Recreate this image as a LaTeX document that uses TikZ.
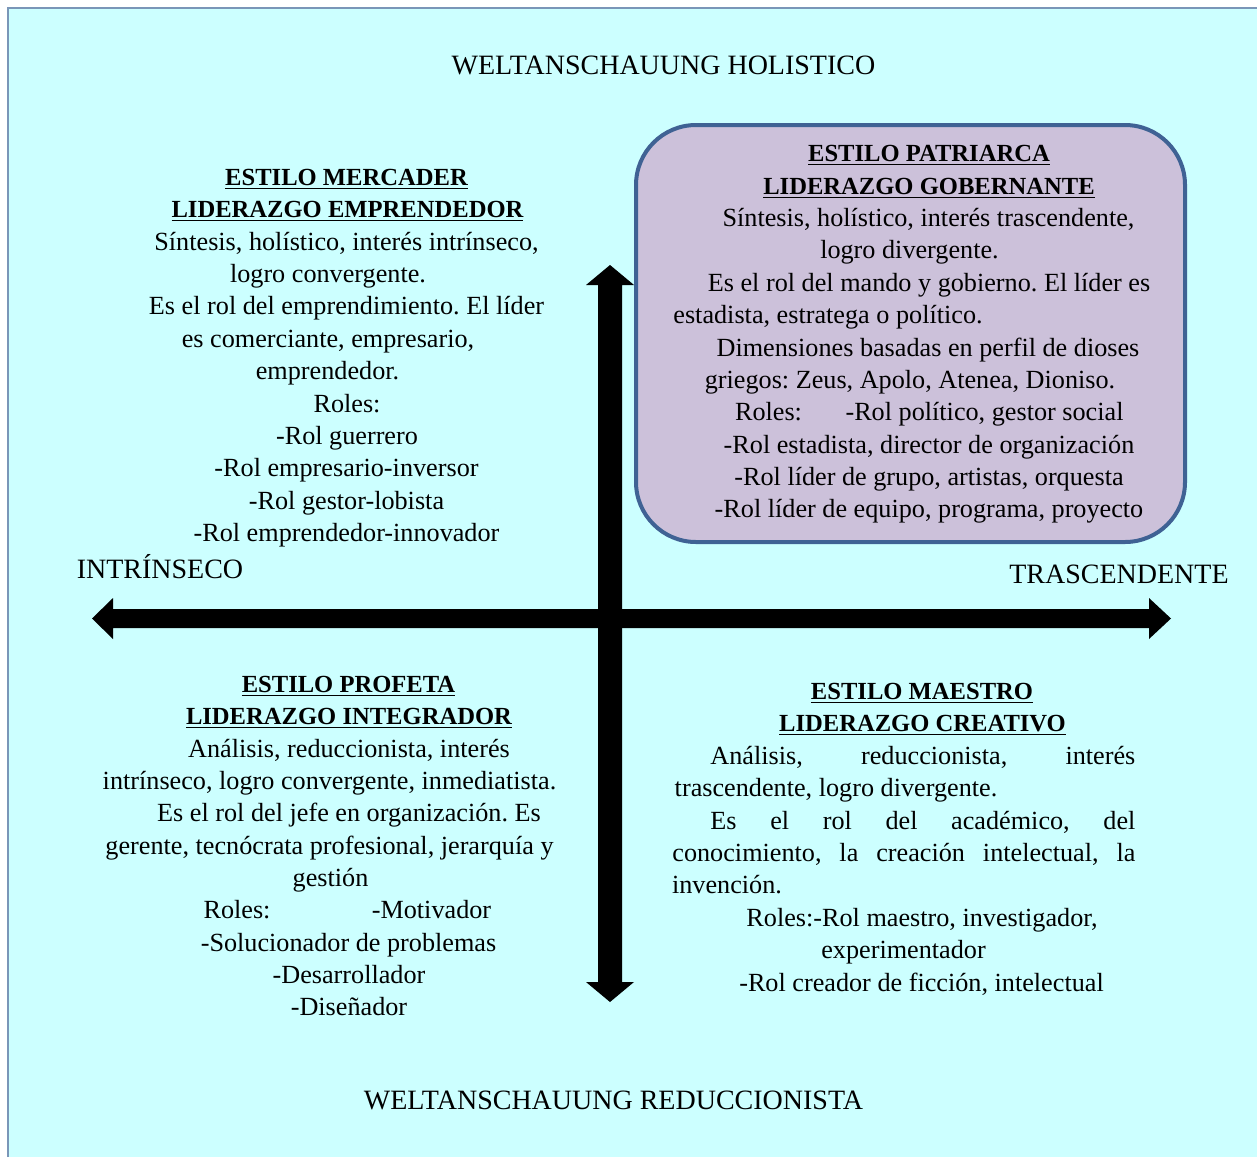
\documentclass[tikz,border=0pt]{standalone}
\usepackage{fontspec}
\setmainfont{Liberation Serif}
\frenchspacing
\definecolor{sheet}{HTML}{CCFFFF}
\definecolor{sheetedge}{HTML}{7A96B8}
\definecolor{boxfill}{HTML}{CCC1DA}
\definecolor{boxedge}{HTML}{3F6294}
\tikzset{
  txt/.style={inner sep=0pt, anchor=mid, yshift=-2.5pt, font=\fontsize{13.1}{16}\selectfont},
  axislabel/.style={txt, font=\fontsize{14}{16}\selectfont},
  txtw/.style={txt, anchor=mid west},
  hd/.style={txt, font=\fontsize{12.3}{16}\selectfont\bfseries},
  axisfill/.style={fill=black},
}
\begin{document}
\begin{tikzpicture}[x=0.5pt,y=-0.5pt]
\useasboundingbox (0,0) rectangle (1257,1157);
% sheet
\fill[sheet] (8,8) rectangle (1257,1157);
\draw[sheetedge, line width=0.6pt] (8,1157) -- (8,8) -- (1257,8);

% axes
\fill[axisfill] (113,609) -- (113,598) -- (92,618.5) -- (113,639) -- (113,628)
  -- (1149,628) -- (1149,639) -- (1171,618.5) -- (1149,598) -- (1149,609) -- cycle;
\fill[axisfill] (598,285) -- (586,285) -- (610,265) -- (634,285) -- (622,285)
  -- (622,982) -- (634,982) -- (610,1002) -- (586,982) -- (598,982) -- cycle;

% highlighted quadrant
\draw[boxedge, fill=boxfill, line width=2pt, rounded corners=30pt] (636,125) rectangle (1185,542);

% axis labels
\node[axislabel] (top) at (663.5,65) {WELTANSCHAUUNG HOLISTICO};
\node[axislabel] (bottom) at (613.5,1100) {WELTANSCHAUUNG REDUCCIONISTA};
\node[axislabel] (left) at (160,569) {INTRÍNSECO};
\node[axislabel] (right) at (1119,574) {TRASCENDENTE};

% upper left: mercader
\node[hd] (m1) at (346.5,176) {\underline{ESTILO MERCADER}};
\node[hd] (m2) at (347.5,208) {\underline{LIDERAZGO EMPRENDEDOR}};
\node[txt] (m3) at (346.5,241) {Síntesis, holístico, interés intrínseco,};
\node[txt] (m4) at (328,273) {logro convergente.};
\node[txt] (m5) at (346.5,305) {Es el rol del emprendimiento. El líder};
\node[txt] (m6) at (328,338) {es comerciante, empresario,};
\node[txt] (m7) at (327.5,370) {emprendedor.};
\node[txt] (m8) at (347,403) {Roles:};
\node[txt] (m9) at (347,435) {-Rol guerrero};
\node[txt] (m10) at (346.5,467) {-Rol empresario-inversor};
\node[txt] (m11) at (346.5,500) {-Rol gestor-lobista};
\node[txt] (m12) at (346.5,532) {-Rol emprendedor-innovador};

% upper right: patriarca
\node[hd] (p1) at (929,152) {\underline{ESTILO PATRIARCA}};
\node[hd] (p2) at (929,185) {\underline{LIDERAZGO GOBERNANTE}};
\node[txt] (p3) at (928.5,217) {Síntesis, holístico, interés trascendente,};
\node[txt] (p4) at (909.5,249) {logro divergente.};
\node[txt] (p5) at (929,282) {Es el rol del mando y gobierno. El líder es};
\node[txt] (p6) at (828,314) {estadista, estratega o político.};
\node[txt] (p7) at (928,347) {Dimensiones basadas en perfil de dioses};
\node[txt] (p8) at (910,379) {griegos: Zeus, Apolo, Atenea, Dioniso.};
\node[txt] (p9a) at (768.5,411) {Roles:};
\node[txt] (p9b) at (984.5,411) {-Rol político, gestor social};
\node[txt] (p10) at (929,444) {-Rol estadista, director de organización};
\node[txt] (p11) at (929,476) {-Rol líder de grupo, artistas, orquesta};
\node[txt] (p12) at (929,508) {-Rol líder de equipo, programa, proyecto};

% lower left: profeta
\node[hd] (f1) at (348.5,683) {\underline{ESTILO PROFETA}};
\node[hd] (f2) at (349,715) {\underline{LIDERAZGO INTEGRADOR}};
\node[txt] (f3) at (349,748) {Análisis, reduccionista, interés};
\node[txt] (f4) at (329.5,780) {intrínseco, logro convergente, inmediatista.};
\node[txt] (f5) at (349,812) {Es el rol del jefe en organización. Es};
\node[txt] (f6) at (329.5,845) {gerente, tecnócrata profesional, jerarquía y};
\node[txt] (f7) at (330.5,877) {gestión};
\node[txt] (f8a) at (237,909) {Roles:};
\node[txt] (f8b) at (431.5,909) {-Motivador};
\node[txt] (f9) at (348.5,942) {-Solucionador de problemas};
\node[txt] (f10) at (349,974) {-Desarrollador};
\node[txt] (f11) at (349,1006) {-Diseñador};

% lower right: maestro
\node[hd] (e1) at (922,690) {\underline{ESTILO MAESTRO}};
\node[hd] (e2) at (922.5,722) {\underline{LIDERAZGO CREATIVO}};
\node[txtw] (e3) at (710,755) {\makebox[212.5pt][s]{Análisis, reduccionista, interés}};
\node[txt] (e4) at (836,787) {trascendente, logro divergente.};
\node[txtw] (e5) at (710,820) {\makebox[212.5pt][s]{Es el rol del académico, del}};
\node[txtw] (e6) at (672,852) {\makebox[231.5pt][s]{conocimiento, la creación intelectual, la}};
\node[txt] (e7) at (727,884) {invención.};
\node[txt] (e8) at (922,917) {Roles:-Rol maestro, investigador,};
\node[txt] (e9) at (903.5,949) {experimentador};
\node[txt] (e10) at (921.5,982) {-Rol creador de ficción, intelectual};
\end{tikzpicture}
\end{document}
